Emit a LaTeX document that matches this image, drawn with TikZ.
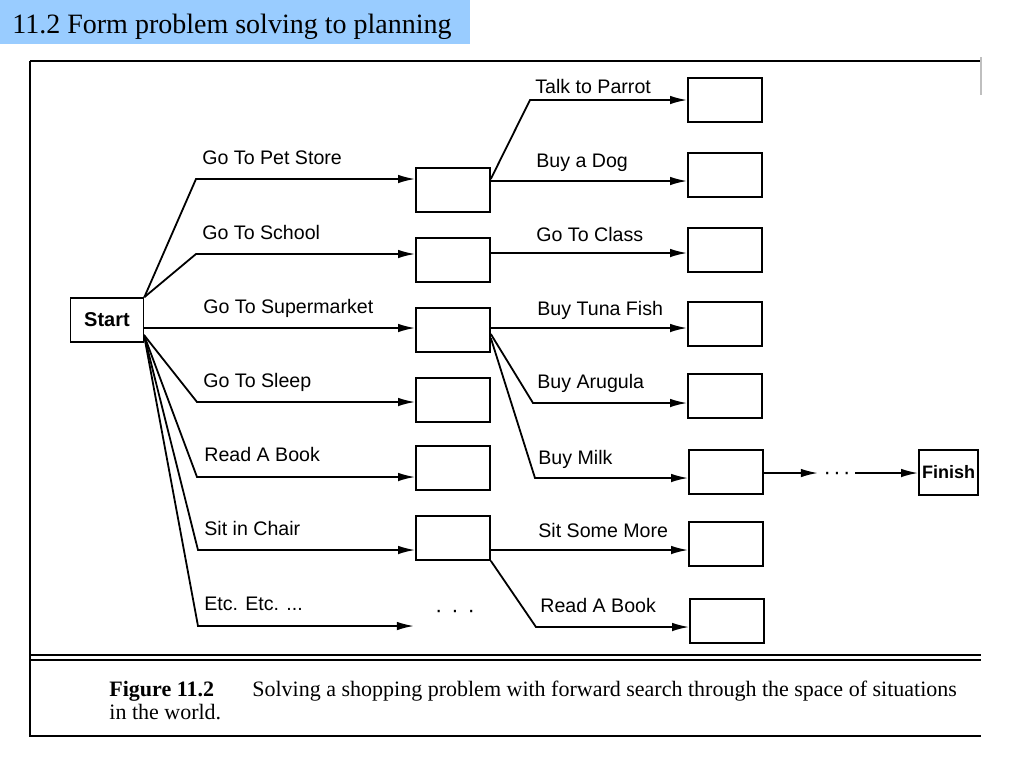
\documentclass[tikz,border=0pt]{standalone}
\usepackage{fontspec}
\setmainfont{Liberation Serif}
\setsansfont{Liberation Sans}
\usetikzlibrary{arrows.meta}
\definecolor{titleblue}{HTML}{99CCFF}
\begin{document}
\begin{tikzpicture}[x=0.5pt,y=-0.5pt,
  box/.style={draw, line width=0.8pt, minimum width=37pt, minimum height=22pt, inner sep=0pt},
  edge/.style={line width=0.9pt, -{Latex[length=8.6pt,width=4.3pt]}},
  lbl/.style={font=\sffamily\fontsize{9.8}{11}\selectfont, anchor=base west, inner sep=0pt},
  endtxt/.style={font=\sffamily\bfseries\fontsize{10}{12}\selectfont},
  frameline/.style={line width=1pt},
  captxt/.style={font=\fontsize{11}{13}\selectfont, anchor=base west, inner sep=0pt}]
\useasboundingbox (0,0) rectangle (1024,768);
\fill[white] (0,0) rectangle (1024,768);
% title
\node[fill=titleblue, minimum width=235pt, minimum height=22pt, anchor=north west, inner sep=0pt] (titlebar) at (0,0) {};
\node[anchor=base west, inner sep=0pt, font=\fontsize{14}{16}\selectfont] (titletext) at (12,33) {11.2 Form problem solving to planning};
% frame
\draw[frameline] (30,61) -- (981,61);
\draw[frameline] (30,61) -- (30,736) -- (981,736);
\draw[frameline] (30,655) -- (981,655);
\draw[frameline] (30,660) -- (981,660);
\draw[gray!50, line width=0.6pt] (981,57) -- (981,95);
% nodes
\node[box, minimum width=36.5pt, endtxt] (start) at (107,320) {Start};
\node[box] (b1) at (453,190) {};
\node[box] (b2) at (453,260) {};
\node[box] (b3) at (453,330) {};
\node[box] (b4) at (453,400) {};
\node[box] (b5) at (453,468) {};
\node[box] (b6) at (453,538) {};
\node[box] (c1) at (725,100) {};
\node[box] (c2) at (725,175) {};
\node[box] (c3) at (725,250) {};
\node[box] (c4) at (725,324) {};
\node[box] (c5) at (725,396) {};
\node[box] (c6) at (726,472) {};
\node[box] (c7) at (726,544) {};
\node[box] (c8) at (727,621) {};
\node[box, minimum width=29.5pt, minimum height=22.5pt, font=\sffamily\bfseries\fontsize{9}{11}\selectfont] (finish) at (948.5,472.5) {Finish};
\node[anchor=base, inner sep=0pt, font=\sffamily\fontsize{11}{13}\selectfont] (dots1) at (455,617) {·\kern4.5pt·\kern4.5pt·};
\node[anchor=base, inner sep=0pt, font=\sffamily\fontsize{11}{13}\selectfont] (dots2) at (837,479) {·\kern1.2pt·\kern1.2pt·};
\coordinate (sb) at (144,335);
\coordinate (etcend) at (414,626);
\coordinate (a1) at (818,473);
\coordinate (a2) at (855,473);
% level 1 edges
\draw[edge] (start.north east) -- (196,179) -- (b1.west |- 0,179);
\draw[edge] (start.north east) -- (196,254) -- (b2.west |- 0,254);
\draw[edge] (start.east |- 0,328) -- (b3.west |- 0,328);
\draw[edge] (sb) -- (197,402) -- (b4.west |- 0,402);
\draw[edge] (sb) -- (197,477) -- (b5.west |- 0,477);
\draw[edge] (sb) -- (198,550) -- (b6.west |- 0,550);
\draw[edge] (sb) -- (198,626) -- (etcend);
% level 2 edges
\draw[edge] (b1.east |- 0,179) -- (530,100) -- (c1.west |- 0,100);
\draw[edge] (b1.east |- 0,181) -- (c2.west |- 0,181);
\draw[edge] (b2.east |- 0,253) -- (c3.west |- 0,253);
\draw[edge] (b3.east |- 0,328) -- (c4.west |- 0,328);
\draw[edge] (b3.east |- 0,334) -- (533,403) -- (c5.west |- 0,403);
\draw[edge] (b3.east |- 0,338) -- (535,478) -- (c6.west |- 0,478);
\draw[edge] (b6.east |- 0,550) -- (c7.west |- 0,550);
\draw[edge] (b6.south east) -- (536,627) -- (c8.west |- 0,627);
\draw[edge] (c6.east |- 0,473) -- (a1);
\draw[edge] (a2) -- (finish.west |- 0,473);
% labels
\node[lbl] (l1) at (202,164) {Go To Pet Store};
\node[lbl] (l2) at (202,239) {Go To School};
\node[lbl] (l3) at (203,313) {Go To Supermarket};
\node[lbl] (l4) at (203,387) {Go To Sleep};
\node[lbl] (l5) at (204,461) {Read A Book};
\node[lbl] (l6) at (204,535) {Sit in Chair};
\node[lbl] (l7) at (204,610) {Etc. Etc. ...};
\node[lbl] (m1) at (535,93) {Talk to Parrot};
\node[lbl] (m2) at (536,167) {Buy a Dog};
\node[lbl] (m3) at (536,241) {Go To Class};
\node[lbl] (m4) at (537,315) {Buy Tuna Fish};
\node[lbl] (m5) at (537,388) {Buy Arugula};
\node[lbl] (m6) at (538,464) {Buy Milk};
\node[lbl] (m7) at (538,537) {Sit Some More};
\node[lbl] (m8) at (540,612) {Read A Book};
% caption
\node[captxt, font=\bfseries\fontsize{11}{13}\selectfont] (figlbl) at (109,696) {Figure 11.2};
\node[captxt] (captext) at (252,696) {Solving a shopping problem with forward search through the space of situations};
\node[captxt] (captext2) at (109,719) {in the world.};
\end{tikzpicture}
\end{document}
